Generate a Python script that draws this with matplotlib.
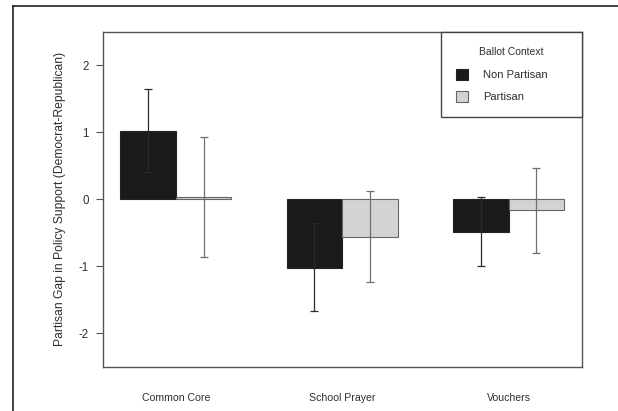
#!/usr/bin/env python3
# grouped bar chart: partisan gap in policy support by ballot context

import matplotlib.pyplot as plt
from matplotlib.patches import Patch
from matplotlib.lines import Line2D
import numpy as np

plt.rcParams['font.family'] = ['Liberation Sans', 'DejaVu Sans']

policies = ["Common Core", "School Prayer", "Vouchers"]
contexts = ["Non Partisan", "Partisan"]
gap_nonpartisan = [1.02, -1.02, -0.49]
gap_partisan = [0.03, -0.56, -0.16]
lo_nonpartisan = [0.41, -1.67, -1.00]
hi_nonpartisan = [1.64, -0.355, 0.03]
lo_partisan = [-0.87, -1.24, -0.81]
hi_partisan = [0.93, 0.12, 0.47]

col_np = "#1a1a1a"
col_p = "#d3d3d3"
txt = "#2e2e2e"

fig = plt.figure(figsize=(6.18, 4.11), dpi=100)
ax = fig.add_axes([102.7/618, 1-366.7/411, 479/618, 335/411])

# R style barplot positions: groups of two bars with one bar gap between
grp = np.arange(len(policies))*3
x_np = grp + 1.5
x_p = grp + 2.5

ax.bar(x_np, gap_nonpartisan, width=1, color=col_np, edgecolor="#222222", linewidth=0.8, zorder=2)
ax.bar(x_p, gap_partisan, width=1, color=col_p, edgecolor="#666666", linewidth=0.8, zorder=2)

g_np = np.array(gap_nonpartisan)
g_p = np.array(gap_partisan)
err_np = [g_np-np.array(lo_nonpartisan), np.array(hi_nonpartisan)-g_np]
err_p = [g_p-np.array(lo_partisan), np.array(hi_partisan)-g_p]
ax.errorbar(x_np, g_np, yerr=err_np, fmt="none", ecolor="#2a2a2a", elinewidth=0.9, capsize=3, capthick=0.9, zorder=3)
ax.errorbar(x_p, g_p, yerr=err_p, fmt="none", ecolor="#707070", elinewidth=0.9, capsize=3, capthick=0.9, zorder=3)

ax.set_xlim(0.68, 9.32)
ax.set_ylim(-2.5, 2.5)
ax.set_yticks([-2, -1, 0, 1, 2])
ax.set_yticklabels(["-2", "-1", "0", "1", "2"])
ax.set_xticks(grp + 2)
ax.set_xticklabels(policies)
ax.tick_params(axis="x", length=0, pad=19, labelsize=7.6, labelcolor=txt)
ax.tick_params(axis="y", length=5, width=0.8, color="#555555", pad=5, labelsize=8.3, labelcolor=txt)
for s in ax.spines.values():
    s.set_color("#555555")
    s.set_linewidth(1.0)
ax.set_ylabel("Partisan Gap in Policy Support (Democrat-Republican)", fontsize=8.7, color=txt, labelpad=9)

handles = [Patch(facecolor=col_np, edgecolor="#222222", linewidth=0.8),
           Patch(facecolor=col_p, edgecolor="#666666", linewidth=0.8)]
x0 = (441-102.7)/479
leg = ax.legend(handles, contexts, title="Ballot Context", loc="upper left",
                bbox_to_anchor=(x0, 0, 1-x0, 1), mode="expand", borderaxespad=0,
                fancybox=False, framealpha=1, edgecolor="#444444", fontsize=8,
                title_fontsize=7.5, handlelength=1.1, handleheight=1.1,
                handletextpad=1.3, borderpad=1.35, labelspacing=0.95)
leg.get_frame().set_linewidth(1.0)
leg.get_title().set_color(txt)
for t in leg.get_texts():
    t.set_color(txt)
leg._legend_box.sep = 9

# outer frame of the original figure (top and left edges)
fig.add_artist(Line2D([12.5/618, 12.5/618], [0, 1-6.3/411], transform=fig.transFigure, color="#222222", lw=1.2))
fig.add_artist(Line2D([12.5/618, 1], [1-6.3/411, 1-6.3/411], transform=fig.transFigure, color="#222222", lw=1.2))

plt.savefig("out.png", dpi=100)
plt.close()
